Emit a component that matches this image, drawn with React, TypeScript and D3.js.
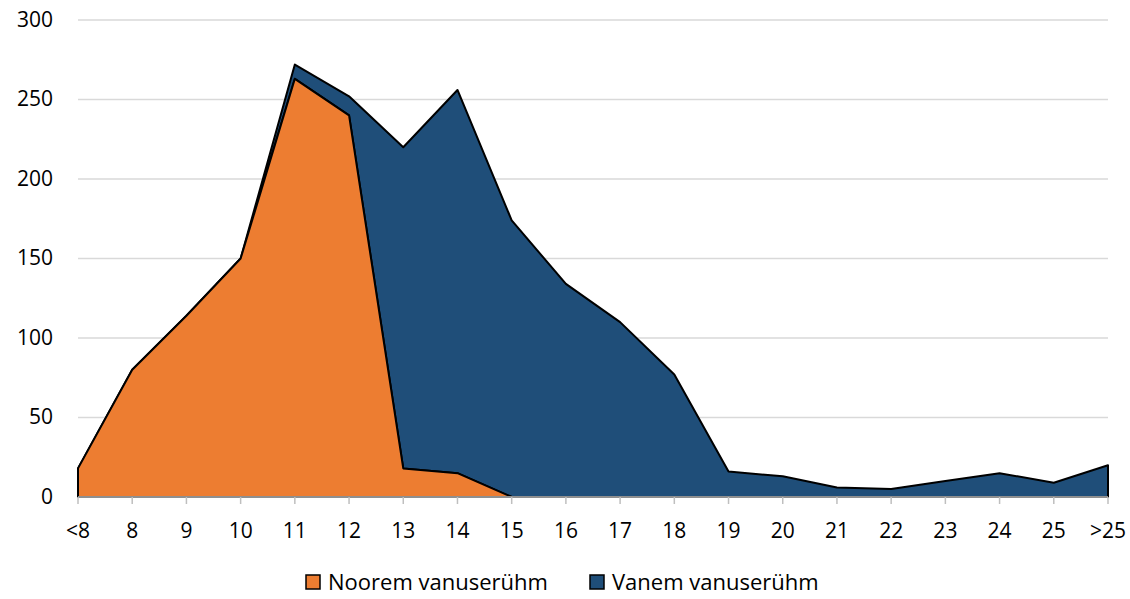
import React from 'react';
import * as d3 from 'd3';

const categories = ['<8', '8', '9', '10', '11', '12', '13', '14', '15', '16', '17', '18', '19', '20', '21', '22', '23', '24', '25', '>25'];
const nooremValues = [18, 80, 114, 150, 263, 240, 18, 15, 0, 0, 0, 0, 0, 0, 0, 0, 0, 0, 0, 0];
const vanemValues = [0, 0, 0, 0, 9, 12, 202, 241, 174, 134, 110, 77, 16, 13, 6, 5, 10, 15, 9, 20];
const yTicks = [0, 50, 100, 150, 200, 250, 300];

const seriesNames = { noorem: 'Noorem vanuserühm', vanem: 'Vanem vanuserühm' };
const colors = { noorem: '#ed7d31', vanem: '#1f4e79' };

const width = 1130;
const height = 599;
const margin = { top: 20, right: 22, bottom: 102, left: 78 };
const font = '"Open Sans", sans-serif';

const App: React.FC = () => {
  const innerWidth = width - margin.left - margin.right;
  const innerHeight = height - margin.top - margin.bottom;

  const rows = categories.map((c, i) => ({ cat: c, noorem: nooremValues[i], vanem: vanemValues[i] }));
  const stacked = d3.stack<any>().keys(['noorem', 'vanem'])(rows);

  const x = d3.scalePoint<string>().domain(categories).range([0, innerWidth]);
  const y = d3.scaleLinear().domain([0, 300]).range([innerHeight, 0]);

  const area = d3.area<any>()
    .x(d => x(d.data.cat) as number)
    .y0(d => y(d[0]))
    .y1(d => y(d[1]));

  return (
    <svg width={width} height={height} style={{ position: 'absolute', left: 0, top: 0 }} fontFamily={font}>
      <g transform={`translate(${margin.left},${margin.top})`}>
        {/* grid */}
        {yTicks.filter(t => t > 0).map(t => (
          <line key={t} x1={0} x2={innerWidth} y1={y(t)} y2={y(t)} stroke="#d9d9d9" strokeWidth={1.5} />
        ))}
        {yTicks.map(t => (
          <text key={t} x={-25} y={y(t)} dy="0.32em" textAnchor="end" fontSize={21} fill="#000">{t}</text>
        ))}

        {/* areas */}
        {stacked.slice().reverse().map(s => (
          <path
            key={s.key}
            d={area(s) || ''}
            fill={colors[s.key as 'noorem' | 'vanem']}
            stroke="#000"
            strokeWidth={2}
            strokeLinejoin="round"
          />
        ))}

        {/* x axis */}
        <line x1={0} x2={innerWidth} y1={innerHeight} y2={innerHeight} stroke="#bfbfbf" strokeWidth={1.5} />
        {categories.map(c => (
          <g key={c} transform={`translate(${x(c)},${innerHeight})`}>
            <line y1={0} y2={7} stroke="#bfbfbf" strokeWidth={1.5} />
            <text y={41} textAnchor="middle" fontSize={21} fill="#000">{c}</text>
          </g>
        ))}
      </g>

      {/* legend */}
      <g transform="translate(306,575)">
        <rect x={0} y={0} width={14} height={14} fill={colors.noorem} stroke="#000" strokeWidth={1.5} />
        <text x={22} y={7} dy="0.35em" fontSize={22} fill="#000">{seriesNames.noorem}</text>
        <rect x={284} y={0} width={14} height={14} fill={colors.vanem} stroke="#000" strokeWidth={1.5} />
        <text x={306} y={7} dy="0.35em" fontSize={22} fill="#000">{seriesNames.vanem}</text>
      </g>
    </svg>
  );
};

export default App;
